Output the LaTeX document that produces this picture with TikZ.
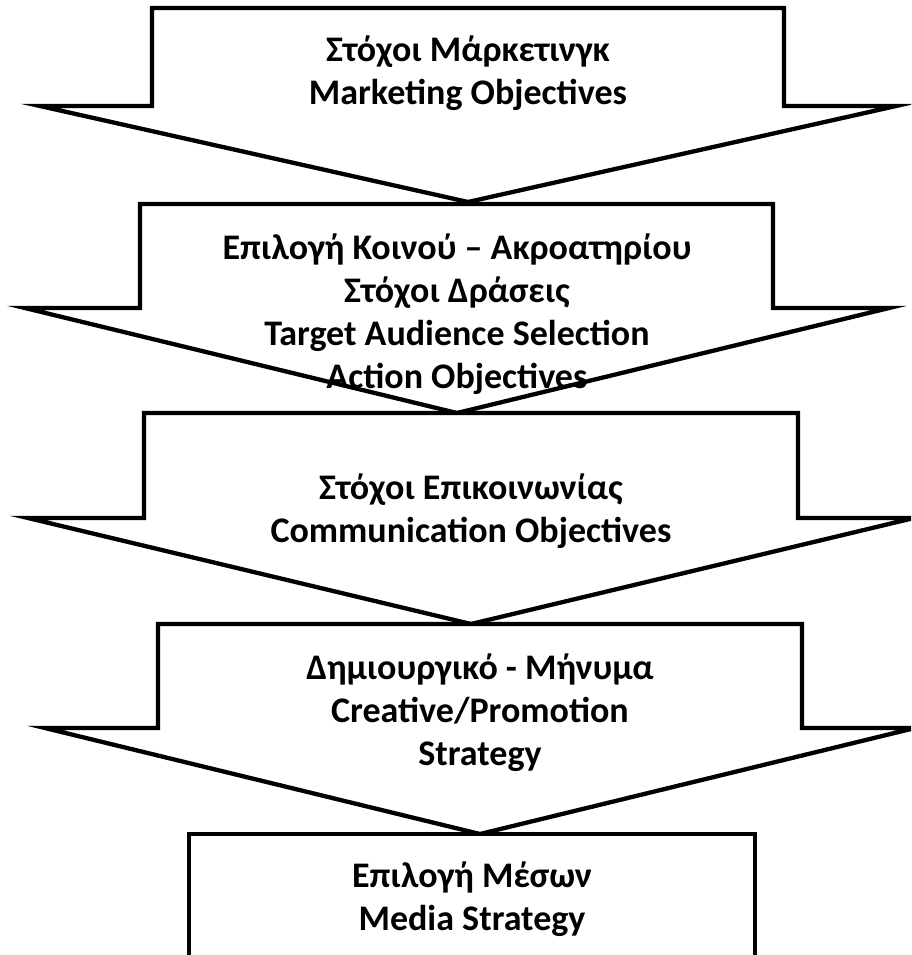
\documentclass[tikz,border=0pt]{standalone}
\usepackage{fontspec}
\setmainfont{Carlito}
\usepackage{tikz}

\begin{document}
\begin{tikzpicture}[
    x=1pt, y=-1pt,
    % --- shape styles ---
    blockarrow/.style={draw=black, fill=white, line width=4.3pt, line join=miter},
    % --- text styles ---
    txt/.style={align=center, inner sep=0pt,
        font=\fontsize{36}{43}\selectfont\bfseries}
]
\useasboundingbox (0,0) rectangle (911,955);
\clip (0,0) rectangle (911,955);

%%% ================= ARROW 1: MARKETING =================
\draw [blockarrow] (152,8) -- (784,8) -- (784,106) -- (896,106)
    -- (468,202) -- (40,106) -- (152,106) -- cycle;
\node (mkt) [txt] at (468,73) {Στόχοι Μάρκετινγκ\\Marketing Objectives};

%%% ================= ARROW 2: AUDIENCE =================
\draw [blockarrow] (140,204) -- (773,204) -- (773,308) -- (889,308)
    -- (457,413) -- (25,308) -- (140,308) -- cycle;
\node (aud) [txt] at (457,314)
    {Επιλογή Κοινού – Ακροατηρίου\\Στόχοι Δράσεις\\Target Audience Selection\\Action Objectives};

%%% ================= ARROW 3: COMMUNICATION =================
\draw [blockarrow] (144,413) -- (798,413) -- (798,518) -- (914,518)
    -- (471,624) -- (28,518) -- (144,518) -- cycle;
\node (comm) [txt] at (471,511) {Στόχοι Επικοινωνίας\\Communication Objectives};

%%% ================= ARROW 4: CREATIVE =================
\draw [blockarrow] (158,624) -- (802,624) -- (802,728) -- (915,728)
    -- (480,834) -- (45,728) -- (158,728) -- cycle;
\node (creat) [txt] at (480,713) {Δημιουργικό - Μήνυμα\\Creative/Promotion\\Strategy};

%%% ================= BOX: MEDIA =================
\draw [blockarrow] (189,834) rectangle (755,980);
\node (media) [txt] at (472,899) {Επιλογή Μέσων\\Media Strategy};

\end{tikzpicture}
\end{document}
